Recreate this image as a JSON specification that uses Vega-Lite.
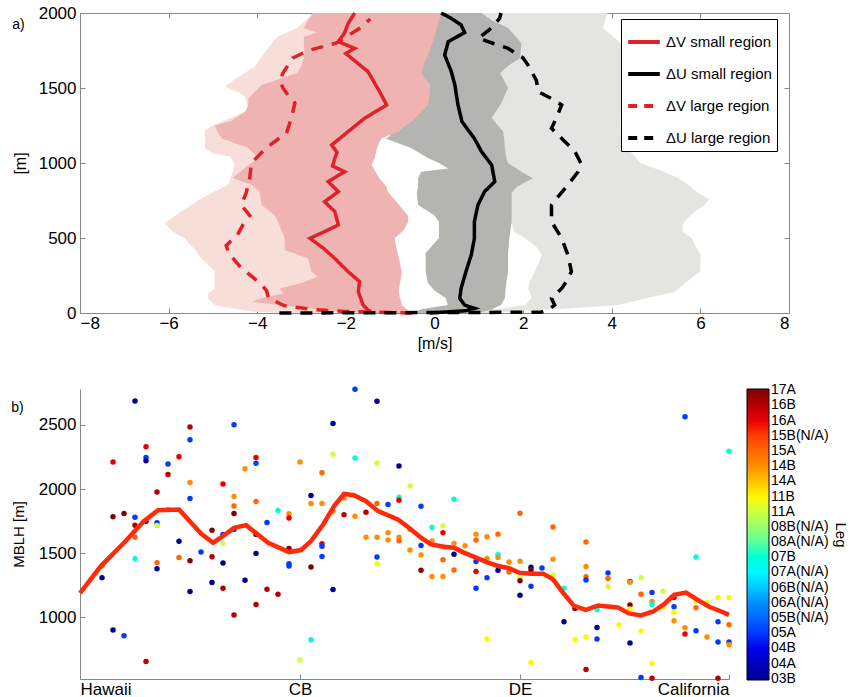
{
"$schema": "https://vega.github.io/schema/vega-lite/v6.json",
"background": "white",
"padding": {"left": 11, "top": 3, "right": 0, "bottom": 0},
"spacing": 34,
"config": {"font": "Liberation Sans", "view": {"stroke": null}, "axis": {"grid": false, "labelColor": "#000", "titleColor": "#000", "titleFontWeight": "normal", "domainColor": "#888", "tickColor": "#888"}},
"datasets": {
"bands": [
{"band":"LG","h":2000,"lo":1.0,"hi":3.9},{"band":"LG","h":1950,"lo":1.0,"hi":3.85},{"band":"LG","h":1900,"lo":1.0,"hi":3.8},{"band":"LG","h":1850,"lo":1.0,"hi":4.0},{"band":"LG","h":1800,"lo":1.0,"hi":4.2},{"band":"LG","h":1700,"lo":1.0,"hi":4.3},{"band":"LG","h":1600,"lo":1.0,"hi":4.35},{"band":"LG","h":1500,"lo":1.0,"hi":4.3},{"band":"LG","h":1400,"lo":1.0,"hi":4.3},{"band":"LG","h":1300,"lo":1.0,"hi":4.2},{"band":"LG","h":1200,"lo":1.0,"hi":4.2},{"band":"LG","h":1100,"lo":1.0,"hi":4.35},{"band":"LG","h":1050,"lo":1.0,"hi":4.5},{"band":"LG","h":1000,"lo":1.0,"hi":4.65},{"band":"LG","h":950,"lo":1.0,"hi":5.1},{"band":"LG","h":900,"lo":1.0,"hi":5.5},{"band":"LG","h":850,"lo":1.0,"hi":5.75},{"band":"LG","h":800,"lo":1.0,"hi":5.95},{"band":"LG","h":760,"lo":1.0,"hi":6.2},{"band":"LG","h":720,"lo":1.0,"hi":6.1},{"band":"LG","h":680,"lo":1.0,"hi":5.9},{"band":"LG","h":630,"lo":1.2,"hi":5.7},{"band":"LG","h":590,"lo":1.75,"hi":5.6},{"band":"LG","h":540,"lo":1.8,"hi":5.6},{"band":"LG","h":500,"lo":2.04,"hi":5.8},{"band":"LG","h":440,"lo":2.3,"hi":5.9},{"band":"LG","h":390,"lo":2.42,"hi":6.0},{"band":"LG","h":330,"lo":2.35,"hi":6.0},{"band":"LG","h":280,"lo":2.27,"hi":6.0},{"band":"LG","h":210,"lo":2.15,"hi":5.7},{"band":"LG","h":160,"lo":2.11,"hi":5.5},{"band":"LG","h":140,"lo":2.15,"hi":5.4},{"band":"LG","h":100,"lo":2.19,"hi":4.8},{"band":"LG","h":53,"lo":2.04,"hi":4.15},{"band":"LG","h":30,"lo":1.5,"hi":3.0},{"band":"LG","h":15,"lo":0.8,"hi":2.0},{"band":"LG","h":0,"lo":0.8,"hi":1.2},
{"band":"LP","h":2000,"lo":-2.74,"hi":-2.0},{"band":"LP","h":1940,"lo":-2.95,"hi":-2.0},{"band":"LP","h":1900,"lo":-3.1,"hi":-2.0},{"band":"LP","h":1842,"lo":-3.55,"hi":-2.0},{"band":"LP","h":1750,"lo":-3.8,"hi":-2.0},{"band":"LP","h":1642,"lo":-4.06,"hi":-2.0},{"band":"LP","h":1560,"lo":-4.5,"hi":-2.0},{"band":"LP","h":1509,"lo":-4.73,"hi":-2.0},{"band":"LP","h":1470,"lo":-4.4,"hi":-2.0},{"band":"LP","h":1442,"lo":-4.28,"hi":-2.0},{"band":"LP","h":1353,"lo":-4.2,"hi":-2.0},{"band":"LP","h":1300,"lo":-4.6,"hi":-2.0},{"band":"LP","h":1250,"lo":-5.0,"hi":-2.0},{"band":"LP","h":1220,"lo":-5.18,"hi":-2.0},{"band":"LP","h":1100,"lo":-5.18,"hi":-2.0},{"band":"LP","h":1064,"lo":-5.0,"hi":-2.0},{"band":"LP","h":1042,"lo":-4.6,"hi":-2.0},{"band":"LP","h":987,"lo":-4.51,"hi":-2.0},{"band":"LP","h":900,"lo":-4.6,"hi":-2.0},{"band":"LP","h":853,"lo":-4.66,"hi":-2.0},{"band":"LP","h":800,"lo":-5.03,"hi":-2.0},{"band":"LP","h":764,"lo":-5.26,"hi":-2.0},{"band":"LP","h":680,"lo":-5.7,"hi":-2.0},{"band":"LP","h":600,"lo":-6.09,"hi":-2.0},{"band":"LP","h":540,"lo":-5.9,"hi":-2.0},{"band":"LP","h":498,"lo":-5.64,"hi":-2.0},{"band":"LP","h":420,"lo":-5.4,"hi":-2.0},{"band":"LP","h":364,"lo":-5.26,"hi":-2.0},{"band":"LP","h":276,"lo":-4.96,"hi":-2.0},{"band":"LP","h":220,"lo":-4.96,"hi":-2.0},{"band":"LP","h":164,"lo":-4.96,"hi":-2.0},{"band":"LP","h":131,"lo":-5.11,"hi":-2.0},{"band":"LP","h":98,"lo":-5.11,"hi":-2.0},{"band":"LP","h":53,"lo":-4.96,"hi":-2.0},{"band":"LP","h":31,"lo":-4.6,"hi":-2.0},{"band":"LP","h":10,"lo":-4.1,"hi":-2.0},{"band":"LP","h":0,"lo":-3.5,"hi":-2.5},
{"band":"DG","h":2000,"lo":-1.0,"hi":1.06},{"band":"DG","h":1950,"lo":-1.0,"hi":1.3},{"band":"DG","h":1900,"lo":-1.0,"hi":1.66},{"band":"DG","h":1800,"lo":-1.0,"hi":1.96},{"band":"DG","h":1700,"lo":-1.0,"hi":1.93},{"band":"DG","h":1650,"lo":-1.0,"hi":1.67},{"band":"DG","h":1600,"lo":-1.0,"hi":1.48},{"band":"DG","h":1500,"lo":-1.0,"hi":1.66},{"band":"DG","h":1400,"lo":-1.0,"hi":1.51},{"band":"DG","h":1300,"lo":-1.0,"hi":1.29},{"band":"DG","h":1209,"lo":-1.0,"hi":1.55},{"band":"DG","h":1180,"lo":-1.0,"hi":1.56},{"band":"DG","h":1164,"lo":-1.1,"hi":1.57},{"band":"DG","h":1098,"lo":-0.52,"hi":1.59},{"band":"DG","h":1031,"lo":-0.14,"hi":1.62},{"band":"DG","h":1000,"lo":0.1,"hi":1.66},{"band":"DG","h":964,"lo":0.31,"hi":1.85},{"band":"DG","h":942,"lo":-0.3,"hi":1.96},{"band":"DG","h":898,"lo":-0.37,"hi":2.22},{"band":"DG","h":842,"lo":-0.37,"hi":1.86},{"band":"DG","h":800,"lo":-0.4,"hi":1.74},{"band":"DG","h":720,"lo":-0.37,"hi":1.74},{"band":"DG","h":650,"lo":0.0,"hi":1.74},{"band":"DG","h":609,"lo":0.1,"hi":1.74},{"band":"DG","h":500,"lo":0.1,"hi":1.69},{"band":"DG","h":400,"lo":-0.2,"hi":1.66},{"band":"DG","h":276,"lo":-0.2,"hi":1.66},{"band":"DG","h":200,"lo":-0.15,"hi":1.62},{"band":"DG","h":150,"lo":0.0,"hi":1.6},{"band":"DG","h":100,"lo":0.25,"hi":1.59},{"band":"DG","h":53,"lo":0.3,"hi":1.5},{"band":"DG","h":25,"lo":-0.3,"hi":1.3},{"band":"DG","h":0,"lo":-0.5,"hi":1.0},
{"band":"DP","h":2000,"lo":-2.74,"hi":0.16},{"band":"DP","h":1950,"lo":-2.85,"hi":0.1},{"band":"DP","h":1900,"lo":-2.96,"hi":0.05},{"band":"DP","h":1870,"lo":-2.65,"hi":0.02},{"band":"DP","h":1840,"lo":-2.95,"hi":0.0},{"band":"DP","h":1800,"lo":-2.95,"hi":-0.05},{"band":"DP","h":1720,"lo":-2.93,"hi":-0.15},{"band":"DP","h":1650,"lo":-3.0,"hi":-0.25},{"band":"DP","h":1600,"lo":-3.1,"hi":-0.29},{"band":"DP","h":1560,"lo":-3.5,"hi":-0.2},{"band":"DP","h":1520,"lo":-3.9,"hi":-0.1},{"band":"DP","h":1430,"lo":-4.2,"hi":-0.12},{"band":"DP","h":1387,"lo":-4.2,"hi":-0.15},{"band":"DP","h":1340,"lo":-4.28,"hi":-0.3},{"band":"DP","h":1280,"lo":-4.6,"hi":-0.5},{"band":"DP","h":1250,"lo":-4.96,"hi":-0.65},{"band":"DP","h":1209,"lo":-4.9,"hi":-0.82},{"band":"DP","h":1164,"lo":-4.8,"hi":-1.2},{"band":"DP","h":1100,"lo":-4.2,"hi":-1.3},{"band":"DP","h":1031,"lo":-3.98,"hi":-1.35},{"band":"DP","h":987,"lo":-4.2,"hi":-1.42},{"band":"DP","h":900,"lo":-4.55,"hi":-1.25},{"band":"DP","h":850,"lo":-4.1,"hi":-1.1},{"band":"DP","h":809,"lo":-3.95,"hi":-1.05},{"band":"DP","h":720,"lo":-3.9,"hi":-0.8},{"band":"DP","h":650,"lo":-3.6,"hi":-0.6},{"band":"DP","h":609,"lo":-3.53,"hi":-0.59},{"band":"DP","h":550,"lo":-3.45,"hi":-0.7},{"band":"DP","h":498,"lo":-3.38,"hi":-0.9},{"band":"DP","h":420,"lo":-3.38,"hi":-0.85},{"band":"DP","h":364,"lo":-2.85,"hi":-0.8},{"band":"DP","h":276,"lo":-2.78,"hi":-0.74},{"band":"DP","h":242,"lo":-2.63,"hi":-0.75},{"band":"DP","h":200,"lo":-3.0,"hi":-0.78},{"band":"DP","h":164,"lo":-3.5,"hi":-0.8},{"band":"DP","h":131,"lo":-3.4,"hi":-0.8},{"band":"DP","h":98,"lo":-3.9,"hi":-0.78},{"band":"DP","h":76,"lo":-4.13,"hi":-0.75},{"band":"DP","h":53,"lo":-3.5,"hi":-0.74},{"band":"DP","h":20,"lo":-2.5,"hi":-0.6},{"band":"DP","h":0,"lo":-1.5,"hi":-0.5}
],
"profiles": [
{"s":"ΔV small region","h":2000,"v":-1.8},{"s":"ΔV small region","h":1930,"v":-1.95},{"s":"ΔV small region","h":1867,"v":-2.03},{"s":"ΔV small region","h":1809,"v":-2.17},{"s":"ΔV small region","h":1764,"v":-1.8},{"s":"ΔV small region","h":1730,"v":-2.0},{"s":"ΔV small region","h":1698,"v":-1.87},{"s":"ΔV small region","h":1609,"v":-1.5},{"s":"ΔV small region","h":1476,"v":-1.24},{"s":"ΔV small region","h":1387,"v":-1.08},{"s":"ΔV small region","h":1298,"v":-1.58},{"s":"ΔV small region","h":1209,"v":-1.95},{"s":"ΔV small region","h":1120,"v":-2.32},{"s":"ΔV small region","h":1070,"v":-2.2},{"s":"ΔV small region","h":1031,"v":-2.25},{"s":"ΔV small region","h":980,"v":-2.3},{"s":"ΔV small region","h":942,"v":-2.03},{"s":"ΔV small region","h":876,"v":-2.4},{"s":"ΔV small region","h":809,"v":-2.17},{"s":"ΔV small region","h":742,"v":-2.48},{"s":"ΔV small region","h":676,"v":-2.25},{"s":"ΔV small region","h":587,"v":-2.17},{"s":"ΔV small region","h":540,"v":-2.5},{"s":"ΔV small region","h":498,"v":-2.81},{"s":"ΔV small region","h":430,"v":-2.5},{"s":"ΔV small region","h":364,"v":-2.25},{"s":"ΔV small region","h":276,"v":-1.95},{"s":"ΔV small region","h":209,"v":-1.69},{"s":"ΔV small region","h":142,"v":-1.72},{"s":"ΔV small region","h":53,"v":-1.61},{"s":"ΔV small region","h":20,"v":-1.5},{"s":"ΔV small region","h":0,"v":-1.4},
{"s":"ΔU small region","h":2000,"v":0.15},{"s":"ΔU small region","h":1964,"v":0.38},{"s":"ΔU small region","h":1920,"v":0.6},{"s":"ΔU small region","h":1870,"v":0.68},{"s":"ΔU small region","h":1840,"v":0.5},{"s":"ΔU small region","h":1809,"v":0.31},{"s":"ΔU small region","h":1720,"v":0.23},{"s":"ΔU small region","h":1609,"v":0.38},{"s":"ΔU small region","h":1520,"v":0.46},{"s":"ΔU small region","h":1387,"v":0.53},{"s":"ΔU small region","h":1276,"v":0.62},{"s":"ΔU small region","h":1164,"v":0.9},{"s":"ΔU small region","h":1076,"v":1.06},{"s":"ΔU small region","h":987,"v":1.29},{"s":"ΔU small region","h":876,"v":1.36},{"s":"ΔU small region","h":809,"v":1.13},{"s":"ΔU small region","h":720,"v":0.98},{"s":"ΔU small region","h":609,"v":0.9},{"s":"ΔU small region","h":498,"v":0.9},{"s":"ΔU small region","h":387,"v":0.83},{"s":"ΔU small region","h":276,"v":0.71},{"s":"ΔU small region","h":164,"v":0.6},{"s":"ΔU small region","h":98,"v":0.57},{"s":"ΔU small region","h":53,"v":0.68},{"s":"ΔU small region","h":31,"v":0.9},{"s":"ΔU small region","h":15,"v":0.7},{"s":"ΔU small region","h":0,"v":-0.1},
{"s":"ΔV large region","h":1960,"v":-1.45},{"s":"ΔV large region","h":1900,"v":-1.68},{"s":"ΔV large region","h":1800,"v":-2.21},{"s":"ΔV large region","h":1750,"v":-2.85},{"s":"ΔV large region","h":1700,"v":-3.2},{"s":"ΔV large region","h":1600,"v":-3.42},{"s":"ΔV large region","h":1550,"v":-3.49},{"s":"ΔV large region","h":1500,"v":-3.42},{"s":"ΔV large region","h":1450,"v":-3.3},{"s":"ΔV large region","h":1400,"v":-3.15},{"s":"ΔV large region","h":1300,"v":-3.23},{"s":"ΔV large region","h":1200,"v":-3.34},{"s":"ΔV large region","h":1100,"v":-3.8},{"s":"ΔV large region","h":1000,"v":-4.13},{"s":"ΔV large region","h":900,"v":-4.17},{"s":"ΔV large region","h":800,"v":-4.25},{"s":"ΔV large region","h":720,"v":-4.36},{"s":"ΔV large region","h":650,"v":-4.17},{"s":"ΔV large region","h":600,"v":-4.3},{"s":"ΔV large region","h":520,"v":-4.45},{"s":"ΔV large region","h":450,"v":-4.7},{"s":"ΔV large region","h":400,"v":-4.65},{"s":"ΔV large region","h":300,"v":-4.36},{"s":"ΔV large region","h":200,"v":-3.94},{"s":"ΔV large region","h":150,"v":-3.79},{"s":"ΔV large region","h":100,"v":-3.75},{"s":"ΔV large region","h":50,"v":-3.4},{"s":"ΔV large region","h":25,"v":-2.8},{"s":"ΔV large region","h":10,"v":-2.0},{"s":"ΔV large region","h":0,"v":-0.5},
{"s":"ΔU large region","h":2000,"v":1.5},{"s":"ΔU large region","h":1964,"v":1.47},{"s":"ΔU large region","h":1898,"v":1.28},{"s":"ΔU large region","h":1831,"v":0.99},{"s":"ΔU large region","h":1800,"v":1.3},{"s":"ΔU large region","h":1764,"v":1.66},{"s":"ΔU large region","h":1700,"v":2.0},{"s":"ΔU large region","h":1653,"v":2.11},{"s":"ΔU large region","h":1609,"v":2.19},{"s":"ΔU large region","h":1550,"v":2.3},{"s":"ΔU large region","h":1476,"v":2.34},{"s":"ΔU large region","h":1420,"v":2.7},{"s":"ΔU large region","h":1387,"v":2.87},{"s":"ΔU large region","h":1300,"v":2.75},{"s":"ΔU large region","h":1231,"v":2.64},{"s":"ΔU large region","h":1164,"v":2.87},{"s":"ΔU large region","h":1076,"v":3.17},{"s":"ΔU large region","h":1000,"v":3.3},{"s":"ΔU large region","h":942,"v":3.24},{"s":"ΔU large region","h":853,"v":3.01},{"s":"ΔU large region","h":780,"v":2.8},{"s":"ΔU large region","h":720,"v":2.64},{"s":"ΔU large region","h":609,"v":2.64},{"s":"ΔU large region","h":498,"v":2.87},{"s":"ΔU large region","h":387,"v":3.01},{"s":"ΔU large region","h":276,"v":3.09},{"s":"ΔU large region","h":220,"v":3.0},{"s":"ΔU large region","h":164,"v":2.87},{"s":"ΔU large region","h":98,"v":2.64},{"s":"ΔU large region","h":53,"v":2.71},{"s":"ΔU large region","h":20,"v":2.56},{"s":"ΔU large region","h":5,"v":2.4},{"s":"ΔU large region","h":0,"v":-3.5}
],
"mblh": [
{"pos":2,"m":1310,"leg":0},{"pos":2,"m":1400,"leg":14},
{"pos":3,"m":2211,"leg":17},{"pos":3,"m":1784,"leg":19},{"pos":3,"m":901,"leg":0},
{"pos":4,"m":1810,"leg":19},{"pos":4,"m":857,"leg":3},
{"pos":5,"m":2687,"leg":0},{"pos":5,"m":1781,"leg":3},{"pos":5,"m":1719,"leg":18},{"pos":5,"m":1624,"leg":15},{"pos":5,"m":1458,"leg":8},
{"pos":6,"m":2330,"leg":17},{"pos":6,"m":2247,"leg":3},{"pos":6,"m":2221,"leg":0},{"pos":6,"m":1750,"leg":19},{"pos":6,"m":656,"leg":18},
{"pos":7,"m":1978,"leg":18},{"pos":7,"m":1737,"leg":3},{"pos":7,"m":1717,"leg":11},{"pos":7,"m":1427,"leg":15},{"pos":7,"m":1380,"leg":0},
{"pos":8,"m":2196,"leg":3},{"pos":8,"m":2113,"leg":18},{"pos":8,"m":1841,"leg":8},
{"pos":9,"m":2252,"leg":17},{"pos":9,"m":1593,"leg":0},{"pos":9,"m":1466,"leg":15},
{"pos":10,"m":2483,"leg":18},{"pos":10,"m":2384,"leg":3},{"pos":10,"m":2051,"leg":14},{"pos":10,"m":1926,"leg":3},{"pos":10,"m":1442,"leg":19},{"pos":10,"m":1202,"leg":0},
{"pos":11,"m":1510,"leg":3},
{"pos":12,"m":1680,"leg":19},{"pos":12,"m":1473,"leg":18},{"pos":12,"m":1272,"leg":0},
{"pos":13,"m":2040,"leg":17},{"pos":13,"m":1647,"leg":3},{"pos":13,"m":1577,"leg":11},{"pos":13,"m":1424,"leg":0},{"pos":13,"m":1228,"leg":18},
{"pos":14,"m":2501,"leg":3},{"pos":14,"m":1942,"leg":14},{"pos":14,"m":1869,"leg":15},{"pos":14,"m":1810,"leg":19},{"pos":14,"m":1686,"leg":3},{"pos":14,"m":1018,"leg":18},
{"pos":15,"m":2159,"leg":14},{"pos":15,"m":1290,"leg":0},
{"pos":16,"m":2247,"leg":17},{"pos":16,"m":2201,"leg":3},{"pos":16,"m":1903,"leg":15},{"pos":16,"m":1647,"leg":19},{"pos":16,"m":1499,"leg":0},{"pos":16,"m":1101,"leg":18},
{"pos":17,"m":1740,"leg":3},{"pos":17,"m":1220,"leg":18},
{"pos":18,"m":1833,"leg":8},{"pos":18,"m":1181,"leg":18},
{"pos":19,"m":1807,"leg":14},{"pos":19,"m":1774,"leg":17},{"pos":19,"m":1538,"leg":19},{"pos":19,"m":1419,"leg":3},{"pos":19,"m":1401,"leg":3},
{"pos":20,"m":2211,"leg":14},{"pos":20,"m":669,"leg":11},
{"pos":21,"m":1950,"leg":0},{"pos":21,"m":1888,"leg":14},{"pos":21,"m":1393,"leg":19},{"pos":21,"m":826,"leg":8},
{"pos":22,"m":2128,"leg":15},{"pos":22,"m":1888,"leg":14},{"pos":22,"m":1574,"leg":17},{"pos":22,"m":1554,"leg":3},{"pos":22,"m":1474,"leg":3},
{"pos":23,"m":2511,"leg":0},{"pos":23,"m":2271,"leg":11},{"pos":23,"m":1828,"leg":14},{"pos":23,"m":1217,"leg":0},
{"pos":24,"m":1931,"leg":14},{"pos":24,"m":1800,"leg":18},
{"pos":25,"m":2778,"leg":3},{"pos":25,"m":2242,"leg":8},{"pos":25,"m":1789,"leg":14},
{"pos":26,"m":1820,"leg":18},{"pos":26,"m":1624,"leg":14},
{"pos":27,"m":2685,"leg":0},{"pos":27,"m":2203,"leg":11},{"pos":27,"m":1888,"leg":15},{"pos":27,"m":1624,"leg":14},{"pos":27,"m":1471,"leg":3},{"pos":27,"m":1419,"leg":12},
{"pos":28,"m":1880,"leg":3},{"pos":28,"m":1660,"leg":14},{"pos":28,"m":1603,"leg":14},
{"pos":29,"m":2180,"leg":0},{"pos":29,"m":1937,"leg":8},{"pos":29,"m":1913,"leg":17},{"pos":29,"m":1624,"leg":14},{"pos":29,"m":1598,"leg":15},
{"pos":30,"m":2025,"leg":11},{"pos":30,"m":1686,"leg":14},{"pos":30,"m":1525,"leg":14},
{"pos":31,"m":1867,"leg":3},{"pos":31,"m":1561,"leg":3},{"pos":31,"m":1486,"leg":14},{"pos":31,"m":1367,"leg":19},
{"pos":32,"m":1701,"leg":8},{"pos":32,"m":1595,"leg":14},{"pos":32,"m":1318,"leg":14},
{"pos":33,"m":1714,"leg":11},{"pos":33,"m":1660,"leg":17},{"pos":33,"m":1450,"leg":15},{"pos":33,"m":1318,"leg":14},
{"pos":34,"m":1921,"leg":8},{"pos":34,"m":1577,"leg":14},{"pos":34,"m":1492,"leg":0},{"pos":34,"m":1370,"leg":15},
{"pos":35,"m":1559,"leg":14},
{"pos":36,"m":1649,"leg":14},{"pos":36,"m":1603,"leg":15},{"pos":36,"m":1435,"leg":3},{"pos":36,"m":1357,"leg":17},{"pos":36,"m":1228,"leg":3},
{"pos":37,"m":1629,"leg":14},{"pos":37,"m":1460,"leg":14},{"pos":37,"m":1310,"leg":3},{"pos":37,"m":832,"leg":12},
{"pos":38,"m":1649,"leg":15},{"pos":38,"m":1489,"leg":8},{"pos":38,"m":1466,"leg":14},{"pos":38,"m":1367,"leg":0},
{"pos":39,"m":1432,"leg":14},{"pos":39,"m":1354,"leg":15},
{"pos":40,"m":1812,"leg":15},{"pos":40,"m":1437,"leg":14},{"pos":40,"m":1318,"leg":11},{"pos":40,"m":1285,"leg":19},{"pos":40,"m":1173,"leg":0},
{"pos":41,"m":1391,"leg":0},{"pos":41,"m":1370,"leg":19},{"pos":41,"m":1243,"leg":3},{"pos":41,"m":648,"leg":12},
{"pos":42,"m":1385,"leg":3},
{"pos":43,"m":1704,"leg":15},{"pos":43,"m":1453,"leg":14},{"pos":43,"m":1331,"leg":11},
{"pos":44,"m":1228,"leg":8},{"pos":44,"m":966,"leg":0},
{"pos":45,"m":1070,"leg":19},{"pos":45,"m":826,"leg":12},
{"pos":46,"m":1587,"leg":15},{"pos":46,"m":1396,"leg":14},{"pos":46,"m":1316,"leg":15},{"pos":46,"m":1292,"leg":3},{"pos":46,"m":847,"leg":12},{"pos":46,"m":594,"leg":18},
{"pos":47,"m":1062,"leg":8},{"pos":47,"m":922,"leg":0},{"pos":47,"m":832,"leg":3},
{"pos":48,"m":1347,"leg":3},{"pos":48,"m":1303,"leg":15},{"pos":48,"m":1241,"leg":11},
{"pos":49,"m":943,"leg":12},
{"pos":50,"m":1279,"leg":3},{"pos":50,"m":1274,"leg":14},{"pos":50,"m":1096,"leg":19},{"pos":50,"m":1065,"leg":12},{"pos":50,"m":800,"leg":0},
{"pos":51,"m":1310,"leg":11},{"pos":51,"m":1181,"leg":15},{"pos":51,"m":894,"leg":12},{"pos":51,"m":531,"leg":3},
{"pos":52,"m":1194,"leg":3},{"pos":52,"m":1124,"leg":14},{"pos":52,"m":1101,"leg":8},{"pos":52,"m":640,"leg":12},{"pos":52,"m":525,"leg":18},
{"pos":53,"m":1204,"leg":11},{"pos":53,"m":1083,"leg":12},
{"pos":54,"m":1155,"leg":17},{"pos":54,"m":1083,"leg":3},{"pos":54,"m":1041,"leg":12},{"pos":54,"m":974,"leg":14},
{"pos":55,"m":2563,"leg":3},{"pos":55,"m":920,"leg":14},{"pos":55,"m":870,"leg":17},
{"pos":56,"m":1471,"leg":8},{"pos":56,"m":1124,"leg":12},{"pos":56,"m":1075,"leg":15},{"pos":56,"m":896,"leg":3},
{"pos":57,"m":1114,"leg":12},{"pos":57,"m":847,"leg":14},
{"pos":58,"m":1155,"leg":12},{"pos":58,"m":966,"leg":3},{"pos":58,"m":808,"leg":3},{"pos":58,"m":525,"leg":18},
{"pos":59,"m":2294,"leg":8},{"pos":59,"m":1155,"leg":12},{"pos":59,"m":943,"leg":15},{"pos":59,"m":808,"leg":3},{"pos":59,"m":787,"leg":14}
],
"mean": [
{"pos":0,"m":1190},{"pos":1.9,"m":1400},{"pos":4.0,"m":1582},{"pos":5.8,"m":1750},{"pos":7.1,"m":1835},{"pos":9.0,"m":1841},{"pos":11.0,"m":1654},{"pos":12.1,"m":1582},{"pos":13.0,"m":1634},{"pos":14.0,"m":1698},{"pos":15.1,"m":1719},{"pos":17.1,"m":1582},{"pos":19.0,"m":1509},{"pos":20.1,"m":1525},{"pos":21.0,"m":1595},{"pos":22.1,"m":1724},{"pos":23.1,"m":1867},{"pos":24.0,"m":1962},{"pos":24.9,"m":1952},{"pos":26.0,"m":1906},{"pos":27.1,"m":1828},{"pos":28.9,"m":1763},{"pos":29.9,"m":1699},{"pos":31.0,"m":1621},{"pos":31.9,"m":1569},{"pos":33.1,"m":1551},{"pos":34.0,"m":1543},{"pos":34.9,"m":1505},{"pos":36.0,"m":1466},{"pos":37.1,"m":1427},{"pos":38.0,"m":1401},{"pos":39.0,"m":1383},{"pos":39.9,"m":1349},{"pos":41.0,"m":1341},{"pos":42.1,"m":1341},{"pos":43.0,"m":1297},{"pos":43.9,"m":1194},{"pos":44.9,"m":1090},{"pos":46.0,"m":1059},{"pos":47.1,"m":1093},{"pos":48.9,"m":1078},{"pos":49.9,"m":1031},{"pos":51.0,"m":1015},{"pos":52.1,"m":1046},{"pos":53.1,"m":1103},{"pos":54.0,"m":1176},{"pos":55.1,"m":1194},{"pos":56.2,"m":1134},{"pos":57.2,"m":1083},{"pos":58.3,"m":1046},{"pos":59.0,"m":1020}
]
},
"vconcat": [
{
"width": 709, "height": 300,
"view": {"stroke": "#888"},
"title": {"text": "a)", "anchor": "start", "frame": "bounds", "fontSize": 14, "fontWeight": "normal", "offset": -14, "dy": 14},
"resolve": {"axis": {"x": "independent", "y": "independent"}},
"layer": [
{"data": {"name": "bands"}, "transform": [{"filter": "datum.band == 'LG'"}], "mark": {"type": "area", "orient": "horizontal", "color": "#E4E4E1"},
 "encoding": {"y": {"field": "h", "type": "quantitative", "scale": {"domain": [0, 2000], "nice": false}, "axis": {"title": "[m]", "format": "d", "values": [0,500,1000,1500,2000], "labelFontSize": 17, "titleFontSize": 16, "domain": false, "tickSize": -5, "labelPadding": 9, "titlePadding": 10}},
  "x": {"field": "lo", "type": "quantitative", "scale": {"domain": [-8, 8], "nice": false}, "axis": {"title": "[m/s]", "values": [-8,-6,-4,-2,0,2,4,6,8], "labelFontSize": 17, "titleFontSize": 16, "domain": false, "tickSize": -5, "labelPadding": 7, "titlePadding": 4}},
  "x2": {"field": "hi"}}},
{"data": {"name": "bands"}, "transform": [{"filter": "datum.band == 'LP'"}], "mark": {"type": "area", "orient": "horizontal", "color": "#F8DED8"},
 "encoding": {"y": {"field": "h", "type": "quantitative", "axis": {"orient": "right", "title": null, "labels": false, "values": [0,500,1000,1500,2000], "domain": false, "tickSize": -5}},
  "x": {"field": "lo", "type": "quantitative", "axis": {"orient": "top", "title": null, "labels": false, "values": [-8,-6,-4,-2,0,2,4,6,8], "domain": false, "tickSize": -5}}, "x2": {"field": "hi"}}},
{"data": {"name": "bands"}, "transform": [{"filter": "datum.band == 'DG'"}], "mark": {"type": "area", "orient": "horizontal", "color": "#B4B4B0"},
 "encoding": {"y": {"field": "h", "type": "quantitative", "axis": null}, "x": {"field": "lo", "type": "quantitative", "axis": null}, "x2": {"field": "hi"}}},
{"data": {"name": "bands"}, "transform": [{"filter": "datum.band == 'DP'"}], "mark": {"type": "area", "orient": "horizontal", "color": "#EFB4B1"},
 "encoding": {"y": {"field": "h", "type": "quantitative", "axis": null}, "x": {"field": "lo", "type": "quantitative", "axis": null}, "x2": {"field": "hi"}}},
{"data": {"name": "profiles"}, "mark": {"type": "line", "strokeWidth": 3.5},
 "encoding": {"y": {"field": "h", "type": "quantitative", "axis": null}, "x": {"field": "v", "type": "quantitative", "axis": null}, "order": {"field": "h", "type": "quantitative"},
  "color": {"field": "s", "type": "nominal", "scale": {"domain": ["ΔV small region","ΔU small region","ΔV large region","ΔU large region"], "range": ["#E0202A","#000000","#E0202A","#000000"]},
   "legend": {"title": null, "orient": "none", "legendX": 541, "legendY": 6, "symbolType": "stroke", "symbolSize": 1000, "symbolStrokeWidth": 4, "labelFontSize": 15, "labelColor": "#000", "strokeColor": "#000", "fillColor": "#fff", "padding": 5, "rowPadding": 6,
    "encode": {"symbols": {"update": {"strokeDash": {"signal": "indexof(datum.value, 'large') >= 0 ? [9, 7] : [1, 0]"}}}}}},
  "strokeDash": {"field": "s", "type": "nominal", "scale": {"domain": ["ΔV small region","ΔU small region","ΔV large region","ΔU large region"], "range": [[1,0],[1,0],[12,9],[12,9]]}, "legend": null}}}
]
},
{
"width": 649, "height": 290,
"title": {"text": "b)", "anchor": "start", "frame": "bounds", "fontSize": 14, "fontWeight": "normal", "offset": -14, "dy": 14},
"layer": [
{"data": {"name": "mblh"}, "mark": {"type": "circle", "size": 30, "opacity": 1},
 "encoding": {"x": {"field": "pos", "type": "quantitative", "scale": {"domain": [0, 59], "nice": false}, "axis": {"title": null, "values": [0, 20, 40, 59], "labelExpr": "datum.value == 0 ? 'Hawaii' : datum.value == 20 ? 'CB' : datum.value == 40 ? 'DE' : 'California'", "labelFontSize": 17, "tickSize": -5, "labelPadding": 7}},
  "y": {"field": "m", "type": "quantitative", "scale": {"domain": [520, 2780], "nice": false}, "axis": {"title": "MBLH  [m]", "format": "d", "values": [1000, 1500, 2000, 2500], "labelFontSize": 17, "titleFontSize": 15, "tickSize": -5, "labelPadding": 9, "titlePadding": 12}},
  "color": {"field": "leg", "type": "quantitative", "scale": {"domain": [-0.08, 2.375, 4.75, 7.125, 9.5, 11.875, 14.25, 16.625, 19.08], "range": ["#00008F", "#0000FF", "#0080FF", "#00FFFF", "#80FF80", "#FFFF00", "#FF8000", "#FF0000", "#800000"]},
   "legend": {"title": "Leg", "orient": "right", "offset": 18, "direction": "vertical", "gradientLength": 291, "gradientThickness": 22, "gradientStrokeColor": "#000", "gradientStrokeWidth": 1, "values": [0,1,2,3,4,5,6,7,8,9,10,11,12,13,14,15,16,17,18,19], "labelExpr": "['03B','04A','04B','05A','05B(N/A)','06A(N/A)','06B(N/A)','07A(N/A)','07B','08A(N/A)','08B(N/A)','11A','11B','14A','14B','15A','15B(N/A)','16A','16B','17A'][datum.value]", "labelFontSize": 14, "labelColor": "#000", "labelOverlap": false, "titleOrient": "right", "titleAnchor": "middle", "titlePadding": 4, "titleFontSize": 15, "titleFontWeight": "normal", "titleColor": "#000"}}}},
{"data": {"name": "mean"}, "mark": {"type": "line", "color": "#FF2A0A", "strokeWidth": 4.5},
 "encoding": {"x": {"field": "pos", "type": "quantitative"}, "y": {"field": "m", "type": "quantitative"}}}
]
}
]
}
